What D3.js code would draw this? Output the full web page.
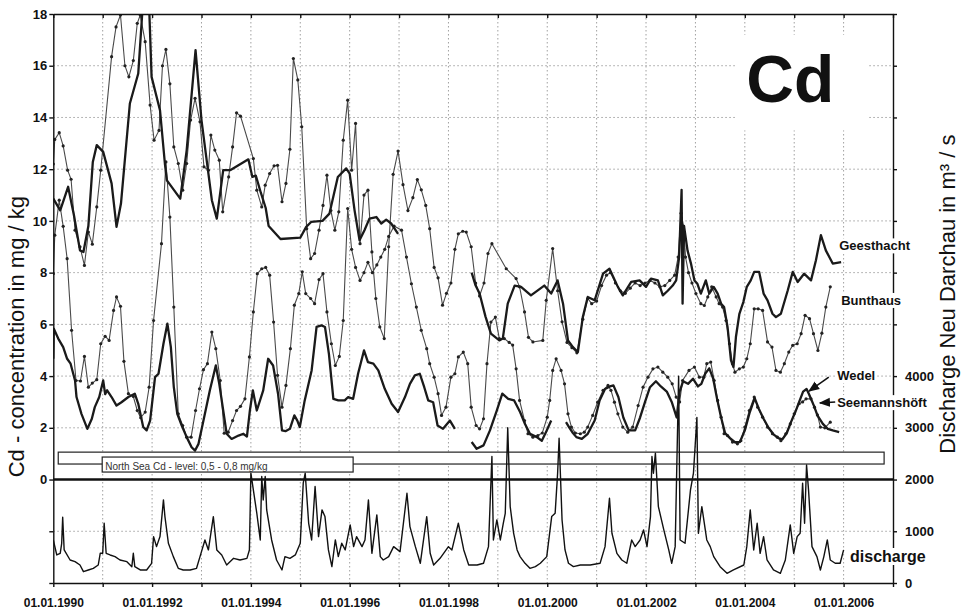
<!DOCTYPE html>
<html><head><meta charset="utf-8">
<script src="https://cdn.jsdelivr.net/npm/d3@7"></script>
<style>
body{margin:0;background:#fff}
svg{display:block}
text{font-family:"Liberation Sans",Arial,Helvetica,sans-serif}
</style>
</head><body>
<svg id="c" width="969" height="611"></svg>
<script>
// ---------- DATA (decimal year, value) ----------
const geesthacht = [
[1990.00,10.86],[1990.14,10.41],[1990.30,11.32],[1990.42,10.2],[1990.47,9.64],[1990.54,8.86],[1990.61,8.80],[1990.71,9.8],[1990.80,12.28],[1990.88,12.93],[1991.01,12.67],[1991.18,11.45],[1991.28,9.77],[1991.37,10.67],[1991.55,14.54],[1991.72,15.7],[1991.81,18.3],[1991.94,18.3],[1991.99,15.57],[1992.16,14.28],[1992.26,12.2],[1992.30,11.57],[1992.57,10.86],[1992.70,12.73],[1992.88,16.6],[1993.00,13.9],[1993.07,12.86],[1993.21,10.8],[1993.31,10.09],[1993.44,11.96],[1993.58,11.96],[1993.95,12.38],[1994.03,11.7],[1994.10,11.75],[1994.20,11.1],[1994.30,10.5],[1994.36,9.8],[1994.60,9.3],[1995.00,9.35],[1995.12,9.77],[1995.22,9.96],[1995.45,10.0],[1995.59,10.28],[1995.76,11.7],[1995.93,12.03],[1996.00,11.83],[1996.10,10.4],[1996.20,9.25],[1996.30,9.64],[1996.40,10.09],[1996.54,10.15],[1996.64,9.9],[1996.74,10.05],[1996.84,9.9],[1996.98,9.5],[1997.0,null],
[1998.47,8.0],[1998.55,7.5],[1998.63,7.19],[1998.75,6.3],[1998.86,5.64],[1999.03,5.38],[1999.10,5.45],[1999.20,6.8],[1999.34,7.5],[1999.47,7.45],[1999.67,7.12],[1999.94,7.5],[2000.08,7.19],[2000.21,7.7],[2000.32,6.8],[2000.42,5.38],[2000.52,5.12],[2000.62,4.93],[2000.72,6.28],[2000.82,7.06],[2000.96,6.93],[2001.13,7.96],[2001.26,8.15],[2001.43,7.45],[2001.53,7.12],[2001.70,7.64],[2001.87,7.7],[2002.00,7.45],[2002.10,7.77],[2002.24,7.7],[2002.34,7.12],[2002.44,7.3],[2002.54,7.5],[2002.61,7.7],[2002.67,8.6],[2002.72,11.2],[2002.74,6.8],[2002.77,9.8],[2002.84,8.86],[2002.91,8.35],[2002.98,7.7],[2003.04,7.57],[2003.11,7.19],[2003.21,7.7],[2003.28,7.19],[2003.37,7.45],[2003.45,7.19],[2003.52,6.8],[2003.58,6.67],[2003.65,5.9],[2003.72,4.61],[2003.77,4.35],[2003.82,5.51],[2003.89,6.41],[2003.97,6.86],[2004.04,7.45],[2004.12,7.7],[2004.19,8.03],[2004.29,8.03],[2004.38,7.19],[2004.46,6.93],[2004.56,6.41],[2004.63,6.28],[2004.73,6.41],[2004.87,7.32],[2004.97,8.03],[2005.07,7.64],[2005.20,7.96],[2005.34,7.7],[2005.44,8.48],[2005.54,9.45],[2005.64,8.86],[2005.78,8.35],[2005.95,8.41]];

const bunthaus = [
[1990.00,12.2],[1990.03,13.15],[1990.12,13.41],[1990.20,12.90],[1990.29,11.96],[1990.36,11.61],[1990.44,9.64],[1990.54,9.0],[1990.63,8.28],[1990.71,9.57],[1990.79,9.1],[1990.88,10.54],[1990.96,11.96],[1991.18,16.35],[1991.27,17.5],[1991.36,17.96],[1991.45,16.0],[1991.53,15.57],[1991.62,16.2],[1991.70,17.64],[1991.76,17.96],[1991.86,16.93],[1991.96,14.48],[1992.04,13.12],[1992.14,13.5],[1992.21,16.0],[1992.28,16.63],[1992.36,15.3],[1992.44,12.86],[1992.53,12.22],[1992.62,11.19],[1992.70,12.22],[1992.78,13.9],[1992.87,14.74],[1992.97,13.83],[1993.05,12.09],[1993.14,11.96],[1993.19,13.32],[1993.27,12.74],[1993.36,12.35],[1993.43,10.35],[1993.55,11.7],[1993.63,12.86],[1993.71,14.18],[1993.79,14.05],[1994.05,12.41],[1994.12,11.19],[1994.22,10.54],[1994.29,11.38],[1994.38,11.83],[1994.47,12.13],[1994.54,12.15],[1994.63,10.74],[1994.71,11.45],[1994.79,12.77],[1994.86,16.28],[1994.95,15.45],[1995.03,13.64],[1995.13,9.7],[1995.21,8.54],[1995.29,8.74],[1995.38,9.64],[1995.46,10.6],[1995.54,11.77],[1995.62,10.4],[1995.70,9.64],[1995.78,10.35],[1995.87,13.12],[1995.96,14.67],[1996.04,11.96],[1996.12,13.77],[1996.21,9.12],[1996.29,11.0],[1996.37,11.19],[1996.45,8.8],[1996.53,7.0],[1996.61,5.9],[1996.70,5.45],[1996.79,9.0],[1996.88,11.8],[1996.98,12.7],[1997.08,11.4],[1997.18,10.4],[1997.28,10.9],[1997.37,11.6],[1997.45,11.2],[1997.54,10.6],[1997.62,9.7],[1997.71,8.2],[1997.79,7.8],[1997.88,6.74],[1997.96,7.2],[1998.05,7.6],[1998.13,8.9],[1998.20,9.5],[1998.29,9.6],[1998.36,9.57],[1998.46,9.0],[1998.55,7.6],[1998.63,7.1],[1998.72,7.6],[1998.80,8.74],[1998.88,9.12],[1999.17,8.15],[1999.37,7.77],[1999.44,7.45],[1999.54,6.48],[1999.62,5.5],[1999.71,5.32],[1999.91,5.38],[1999.98,6.93],[2000.11,8.93],[2000.21,7.3],[2000.30,6.1],[2000.40,5.3],[2000.50,5.1],[2000.60,4.9],[2000.72,6.2],[2000.82,7.0],[2000.90,6.8],[2001.00,6.9],[2001.10,7.5],[2001.20,7.9],[2001.28,8.0],[2001.38,7.6],[2001.48,7.3],[2001.58,7.2],[2001.68,7.4],[2001.78,7.6],[2001.88,7.5],[2001.98,7.6],[2002.08,7.7],[2002.18,7.6],[2002.28,7.45],[2002.38,7.5],[2002.48,7.7],[2002.58,7.9],[2002.65,8.6],[2002.71,10.3],[2002.76,9.8],[2002.80,8.6],[2002.86,8.0],[2002.93,7.6],[2003.01,7.19],[2003.11,6.8],[2003.18,6.73],[2003.25,7.06],[2003.33,7.45],[2003.42,7.06],[2003.48,6.8],[2003.55,6.67],[2003.62,6.15],[2003.69,5.25],[2003.75,4.48],[2003.80,4.15],[2003.89,4.28],[2003.97,4.35],[2004.04,4.67],[2004.11,5.25],[2004.19,6.6],[2004.27,6.6],[2004.36,6.54],[2004.46,5.32],[2004.55,5.12],[2004.63,4.22],[2004.72,4.15],[2004.80,4.48],[2004.89,4.93],[2004.97,5.19],[2005.06,5.25],[2005.14,5.64],[2005.22,6.35],[2005.31,6.22],[2005.39,5.64],[2005.48,4.99],[2005.56,5.66],[2005.64,6.67],[2005.73,7.45]];

const wedel = [
[1990.00,7.96],[1990.03,9.45],[1990.12,10.8],[1990.20,9.79],[1990.28,8.54],[1990.37,5.77],[1990.46,3.83],[1990.55,3.81],[1990.63,4.76],[1990.71,3.57],[1990.79,3.73],[1990.88,3.86],[1990.96,5.25],[1991.05,5.54],[1991.13,5.38],[1991.22,6.54],[1991.28,7.06],[1991.36,6.70],[1991.43,4.57],[1991.52,3.32],[1991.62,3.21],[1991.70,2.67],[1991.77,2.39],[1991.86,2.61],[1991.94,3.57],[1992.03,6.15],[1992.19,9.12],[1992.28,12.28],[1992.36,10.15],[1992.44,6.67],[1992.53,2.54],[1992.62,2.09],[1992.70,1.64],[1992.79,1.64],[1992.88,2.67],[1992.96,3.51],[1993.04,4.25],[1993.12,4.48],[1993.21,5.70],[1993.29,5.06],[1993.38,3.83],[1993.46,1.79],[1993.54,1.83],[1993.63,2.28],[1993.71,2.67],[1993.79,2.83],[1993.88,3.12],[1993.97,4.74],[1994.05,6.48],[1994.13,7.96],[1994.22,8.15],[1994.30,8.2],[1994.38,7.9],[1994.46,6.09],[1994.54,4.03],[1994.63,2.8],[1994.71,3.64],[1994.80,5.06],[1994.88,6.74],[1994.97,7.19],[1995.04,8.03],[1995.11,7.19],[1995.21,7.0],[1995.29,6.8],[1995.38,7.73],[1995.46,7.96],[1995.54,6.48],[1995.63,5.25],[1995.71,4.41],[1995.79,4.76],[1995.87,6.15],[1995.96,10.48],[1996.04,8.9],[1996.12,8.2],[1996.21,7.7],[1996.29,8.0],[1996.37,8.4],[1996.46,8.0],[1996.55,8.3],[1996.63,8.6],[1996.71,8.9],[1996.79,9.4],[1996.90,9.8],[1997.05,9.64],[1997.15,8.6],[1997.25,7.57],[1997.35,6.67],[1997.45,5.77],[1997.56,5.06],[1997.62,4.48],[1997.71,3.96],[1997.79,3.32],[1997.86,2.48],[1997.95,2.8],[1998.05,3.96],[1998.13,4.09],[1998.20,4.74],[1998.30,4.93],[1998.39,4.48],[1998.46,2.8],[1998.56,2.09],[1998.63,1.96],[1998.71,2.35],[1998.78,4.48],[1998.86,6.09],[1998.95,6.28],[1999.03,5.45],[1999.13,5.45],[1999.23,5.3],[1999.30,5.2],[1999.37,4.28],[1999.44,3.06],[1999.54,2.28],[1999.61,1.77],[1999.71,1.64],[1999.81,1.7],[1999.90,1.8],[2000.00,2.41],[2000.05,3.06],[2000.11,4.22],[2000.18,4.67],[2000.28,4.22],[2000.35,3.7],[2000.42,2.54],[2000.49,2.03],[2000.57,1.8],[2000.67,1.77],[2000.75,1.83],[2000.82,2.03],[2000.92,2.48],[2001.02,2.99],[2001.13,3.45],[2001.23,3.64],[2001.29,3.45],[2001.36,2.99],[2001.43,2.54],[2001.53,2.03],[2001.63,1.83],[2001.73,2.03],[2001.84,2.86],[2001.94,3.57],[2002.04,3.96],[2002.14,4.28],[2002.24,4.35],[2002.34,4.15],[2002.44,3.96],[2002.53,3.7],[2002.61,3.19],[2002.68,3.0],[2002.74,3.83],[2002.87,4.22],[2002.98,4.35],[2003.08,3.96],[2003.17,3.96],[2003.23,4.48],[2003.31,4.54],[2003.38,3.83],[2003.45,3.06],[2003.52,2.41],[2003.58,1.77],[2003.65,1.7],[2003.75,1.45],[2003.85,1.38],[2003.92,1.5],[2004.00,2.03],[2004.09,2.67],[2004.19,3.19],[2004.26,2.8],[2004.36,2.41],[2004.46,2.03],[2004.56,1.77],[2004.66,1.64],[2004.73,1.5],[2004.83,1.77],[2004.92,2.15],[2005.00,2.54],[2005.10,2.93],[2005.17,3.0],[2005.24,3.12],[2005.34,3.12],[2005.41,2.8],[2005.47,2.5],[2005.53,2.03],[2005.62,2.0],[2005.73,2.22]];

const seemannshoeft = [
[1990.00,4.67],[1990.01,5.83],[1990.10,5.45],[1990.20,5.12],[1990.28,4.67],[1990.35,4.48],[1990.44,3.83],[1990.47,3.19],[1990.57,2.54],[1990.69,1.96],[1990.78,2.35],[1990.84,2.8],[1990.93,3.19],[1991.01,3.83],[1991.05,3.3],[1991.09,3.45],[1991.18,3.19],[1991.28,2.86],[1991.38,2.99],[1991.52,3.19],[1991.65,3.32],[1991.72,2.93],[1991.82,2.03],[1991.89,1.9],[1991.96,2.28],[1992.06,3.96],[1992.13,4.09],[1992.23,5.25],[1992.31,6.03],[1992.38,5.12],[1992.44,3.57],[1992.51,2.54],[1992.60,2.09],[1992.70,1.64],[1992.80,1.25],[1992.87,1.12],[1992.94,1.38],[1993.04,2.28],[1993.17,3.45],[1993.29,4.41],[1993.36,3.7],[1993.44,2.67],[1993.51,1.77],[1993.61,1.57],[1993.75,1.7],[1993.85,1.77],[1993.92,1.66],[1993.98,2.67],[1994.04,3.45],[1994.12,2.67],[1994.25,3.45],[1994.35,4.67],[1994.45,4.41],[1994.55,3.32],[1994.63,1.9],[1994.70,1.87],[1994.79,1.96],[1994.88,2.48],[1994.94,2.28],[1994.99,2.03],[1995.09,3.06],[1995.23,4.22],[1995.33,5.9],[1995.43,5.96],[1995.50,5.9],[1995.58,4.86],[1995.67,3.12],[1995.77,3.06],[1995.90,3.06],[1995.97,3.19],[1996.07,3.12],[1996.17,4.09],[1996.29,4.99],[1996.37,4.54],[1996.48,4.48],[1996.58,4.22],[1996.71,3.51],[1996.85,2.93],[1996.98,2.61],[1997.12,3.19],[1997.22,3.7],[1997.32,4.03],[1997.42,4.09],[1997.51,3.57],[1997.59,3.06],[1997.69,2.99],[1997.78,2.09],[1997.89,1.96],[1998.03,2.28],[1998.13,1.96],[1998.2,null],
[1998.47,1.45],[1998.57,1.19],[1998.71,1.32],[1998.84,1.9],[1998.98,2.67],[1999.09,3.32],[1999.21,3.12],[1999.33,3.06],[1999.45,2.61],[1999.55,2.15],[1999.65,1.77],[1999.79,1.64],[1999.89,1.5],[1999.99,1.9],[2000.08,2.28],[2000.2,null],
[2000.38,2.22],[2000.45,2.0],[2000.52,1.8],[2000.59,1.64],[2000.70,1.57],[2000.82,1.77],[2000.96,2.28],[2001.06,3.06],[2001.17,3.5],[2001.27,3.6],[2001.34,3.64],[2001.44,3.19],[2001.54,2.4],[2001.65,1.9],[2001.78,1.9],[2001.88,2.4],[2001.98,3.0],[2002.08,3.57],[2002.20,3.8],[2002.30,3.6],[2002.42,3.4],[2002.52,3.0],[2002.62,2.4],[2002.68,3.4],[2002.75,3.8],[2002.85,3.7],[2002.95,3.9],[2003.05,3.6],[2003.12,3.7],[2003.20,4.1],[2003.28,4.3],[2003.36,3.9],[2003.44,3.1],[2003.52,2.4],[2003.60,1.8],[2003.70,1.6],[2003.80,1.45],[2003.90,1.45],[2004.00,1.9],[2004.10,2.6],[2004.20,3.15],[2004.28,2.75],[2004.38,2.35],[2004.48,2.0],[2004.58,1.75],[2004.68,1.6],[2004.76,1.55],[2004.85,1.8],[2004.93,2.2],[2005.02,2.6],[2005.10,3.0],[2005.18,3.4],[2005.25,3.5],[2005.30,3.3],[2005.40,2.85],[2005.47,2.48],[2005.58,2.15],[2005.68,1.96],[2005.78,1.9],[2005.91,1.83]];

const discharge = [
[1990.00,832],[1990.07,542],[1990.14,574],[1990.17,768],[1990.19,1271],[1990.22,639],[1990.34,445],[1990.44,413],[1990.54,348],[1990.61,219],[1990.71,252],[1990.81,284],[1990.91,348],[1990.95,574],[1991.00,574],[1991.03,1155],[1991.07,574],[1991.15,542],[1991.25,510],[1991.35,445],[1991.49,413],[1991.59,316],[1991.62,574],[1991.65,316],[1991.76,252],[1991.89,252],[1991.99,381],[1992.03,897],[1992.09,703],[1992.16,897],[1992.23,1606],[1992.26,1284],[1992.33,768],[1992.43,510],[1992.53,284],[1992.63,252],[1992.77,252],[1992.90,284],[1992.97,510],[1993.07,832],[1993.14,639],[1993.24,1284],[1993.31,639],[1993.41,542],[1993.51,348],[1993.65,477],[1993.78,445],[1993.92,477],[1993.97,639],[1994.00,2123],[1994.05,1800],[1994.12,1348],[1994.19,832],[1994.22,2058],[1994.25,1606],[1994.29,2058],[1994.32,1413],[1994.42,832],[1994.52,445],[1994.63,252],[1994.69,510],[1994.79,477],[1994.90,542],[1995.00,768],[1995.06,1929],[1995.10,2123],[1995.17,1155],[1995.23,832],[1995.30,1865],[1995.37,897],[1995.44,1413],[1995.50,1284],[1995.57,639],[1995.64,316],[1995.71,832],[1995.77,510],[1995.84,768],[1995.91,639],[1996.01,1123],[1996.08,703],[1996.14,897],[1996.25,703],[1996.31,832],[1996.38,1606],[1996.45,574],[1996.55,1316],[1996.62,510],[1996.68,445],[1996.79,510],[1996.89,703],[1997.02,606],[1997.16,1735],[1997.22,1090],[1997.33,703],[1997.43,381],[1997.56,1284],[1997.63,574],[1997.70,348],[1997.83,477],[1998.00,703],[1998.07,639],[1998.20,1155],[1998.31,639],[1998.41,348],[1998.58,348],[1998.71,381],[1998.81,703],[1998.88,2445],[1998.91,832],[1998.98,1219],[1999.05,832],[1999.11,1155],[1999.15,1348],[1999.20,3000],[1999.25,1477],[1999.32,961],[1999.39,639],[1999.45,510],[1999.55,381],[1999.65,284],[1999.76,316],[1999.86,381],[1999.99,510],[2000.09,1284],[2000.16,1348],[2000.21,2123],[2000.24,2800],[2000.30,1219],[2000.36,639],[2000.43,381],[2000.53,316],[2000.67,348],[2000.87,348],[2001.07,381],[2001.17,703],[2001.26,1639],[2001.31,961],[2001.41,574],[2001.51,445],[2001.61,381],[2001.71,832],[2001.78,703],[2001.88,832],[2001.95,1026],[2002.02,703],[2002.09,1284],[2002.12,2445],[2002.15,2123],[2002.19,2510],[2002.25,1477],[2002.36,1026],[2002.46,639],[2002.52,381],[2002.59,703],[2002.66,4000],[2002.69,832],[2002.79,768],[2002.90,1800],[2002.96,2123],[2003.03,3200],[2003.06,961],[2003.13,1477],[2003.23,832],[2003.30,703],[2003.37,510],[2003.50,316],[2003.64,187],[2003.77,252],[2003.98,348],[2004.04,703],[2004.11,1413],[2004.18,639],[2004.25,1155],[2004.31,574],[2004.38,897],[2004.45,445],[2004.58,252],[2004.72,187],[2004.82,445],[2004.92,1123],[2004.99,574],[2005.06,897],[2005.12,961],[2005.17,1929],[2005.21,1155],[2005.25,2280],[2005.29,1800],[2005.36,703],[2005.46,510],[2005.53,252],[2005.60,510],[2005.67,832],[2005.73,445],[2005.83,381],[2005.93,381],[2006.00,639]];

const yearTicks = d3.range(1990, 2008);
const concTicks = d3.range(-4, 19, 2);
const dischargeTicks = d3.range(0, 11001, 1000);
const northSeaBand = [0.6, 1.06];
const northSeaLabel = "North Sea Cd - level: 0,5 - 0,8 mg/kg";

// ---------- SCALES ----------
const L = 53.3, R = 893, T = 14, B = 583;
const x = d3.scaleLinear().domain([1990, 2007]).range([L, R]);
const yC = d3.scaleLinear().domain([-4, 18]).range([B, T]);
const yD = d3.scaleLinear().domain([0, 11000]).range([B, T]);

const svg = d3.select("#c");
svg.append("defs").call(d => {
  d.append("clipPath").attr("id","clip").append("rect")
    .attr("x",L).attr("y",T).attr("width",R-L).attr("height",B-T);
  d.append("marker").attr("id","arr").attr("viewBox","0 0 10 10").attr("refX",9).attr("refY",5)
    .attr("markerWidth",7).attr("markerHeight",7).attr("orient","auto")
    .append("path").attr("d","M0,1 L10,5 L0,9 Z").attr("fill","#111");
});

// ---------- GRID ----------
const grid = svg.append("g").attr("stroke","#a0a0a0").attr("stroke-width",1).attr("stroke-dasharray","1.5,2.5");
grid.selectAll("line.v").data(yearTicks.filter(d=>d>1990 && d<2007)).join("line")
  .attr("x1",d=>x(d)).attr("x2",d=>x(d)).attr("y1",T).attr("y2",B);
grid.selectAll("line.h").data(concTicks.filter(d=>d!==0 && d>-4 && d<18)).join("line")
  .attr("y1",d=>yC(d)).attr("y2",d=>yC(d)).attr("x1",L).attr("x2",R);

// white area behind the "Cd" title
svg.append("rect").attr("x",x(2003.84)).attr("y",yC(17.2)).attr("width",x(2006.49)-x(2003.84)).attr("height",yC(13.5)-yC(17.2)).attr("fill","#fff");

// ---------- NORTH SEA BAND ----------
svg.append("rect").attr("x",x(1990.1)).attr("width",x(2006.82)-x(1990.1))
  .attr("y",yC(northSeaBand[1])).attr("height",yC(northSeaBand[0])-yC(northSeaBand[1]))
  .attr("fill","#fff").attr("stroke","#222").attr("stroke-width",1.2);

// ---------- SERIES ----------
const plot = svg.append("g").attr("clip-path","url(#clip)");
const lineC = d3.line().defined(d=>d[1]!=null).x(d=>x(d[0])).y(d=>yC(d[1]));
const lineD = d3.line().x(d=>x(d[0])).y(d=>yD(d[1]));

plot.append("path").datum(discharge).attr("d",lineD).attr("fill","none").attr("stroke","#111").attr("stroke-width",1.4).attr("stroke-linejoin","round");

function thin(data){
  plot.append("path").datum(data).attr("d",lineC).attr("fill","none").attr("stroke","#4a4a4a").attr("stroke-width",1.1);
  plot.append("g").selectAll("circle").data(data.filter(d=>d[1]!=null)).join("circle")
    .attr("cx",d=>x(d[0])).attr("cy",d=>yC(d[1])).attr("r",1.6).attr("fill","#222");
}
function thick(data){
  plot.append("path").datum(data).attr("d",lineC).attr("fill","none").attr("stroke","#1a1a1a").attr("stroke-width",2.3).attr("stroke-linejoin","round");
}
thin(bunthaus);
thin(wedel);
thick(geesthacht);
thick(seemannshoeft);

// zero line
svg.append("line").attr("x1",L).attr("x2",R).attr("y1",yC(0)).attr("y2",yC(0)).attr("stroke","#111").attr("stroke-width",2.6);

// North Sea label box
const lb = svg.append("g");
lb.append("rect").attr("x",x(1990.99)).attr("width",x(1996.07)-x(1990.99))
  .attr("y",yC(0.87)).attr("height",yC(0.29)-yC(0.87)).attr("fill","#fff").attr("stroke","#222").attr("stroke-width",1.2);
lb.append("text").attr("x",x(1991.05)).attr("y",yC(0.35)).attr("font-size",10).attr("fill","#333").text(northSeaLabel);

// ---------- AXES ----------
const axisStyle = g => { g.selectAll("path,line").attr("stroke","#111").attr("stroke-width",1.4); g.selectAll("text").attr("fill","#111").attr("font-weight","bold").attr("font-family","'Liberation Sans',Arial,sans-serif"); };

svg.append("g").attr("transform",`translate(${L},0)`)
  .call(d3.axisLeft(yC).tickValues(concTicks).tickFormat(d=>d>=0?d:"").tickSize(4).tickSizeOuter(0).tickPadding(2))
  .call(axisStyle).call(g=>g.selectAll("text").attr("font-size",13));

svg.append("g").attr("transform",`translate(0,${T})`)
  .call(d3.axisTop(x).tickValues(yearTicks).tickFormat("").tickSize(-4).tickSizeOuter(0))
  .call(axisStyle);

svg.append("g").attr("transform",`translate(0,${B})`)
  .call(d3.axisBottom(x).tickValues(yearTicks).tickFormat(d=>(d%2===0 && d<=2006)?"01.01."+d:"").tickSize(4).tickSizeOuter(0).tickPadding(11))
  .call(axisStyle).call(g=>g.selectAll("text").attr("font-size",12));

svg.append("g").attr("transform",`translate(${R},0)`)
  .call(d3.axisRight(yD).tickValues(dischargeTicks).tickFormat(d=>d<=4000?d:"").tickSize(4).tickSizeOuter(0).tickPadding(8))
  .call(axisStyle).call(g=>g.selectAll("text").attr("font-size",13));

// ---------- TITLES ----------
svg.append("text").attr("transform",`translate(23.5,${(yC(-0.15)+yC(11.2))/2}) rotate(-90)`)
  .attr("text-anchor","middle").attr("font-size",22).attr("fill","#111").text("Cd - concentration in mg / kg");
svg.append("text").attr("transform",`translate(955,${(yD(2400)+yD(8770))/2}) rotate(-90)`)
  .attr("text-anchor","middle").attr("font-size",22).attr("fill","#111").text("Discharge Neu Darchau in m³ / s");

svg.append("text").attr("x",x(2004.92)).attr("y",yC(14.6)).attr("text-anchor","middle")
  .attr("font-size",66).attr("font-weight","bold").attr("fill","#111").text("Cd");

// series labels with white background
const labels = [
  {t:"Geesthacht", yr:2005.91, v:8.86, s:13, sc:"c"},
  {t:"Bunthaus", yr:2005.95, v:6.75, s:13, sc:"c"},
  {t:"Wedel", yr:2005.87, v:3.85, s:13, sc:"c"},
  {t:"Seemannshöft", yr:2005.87, v:2.80, s:13, sc:"c"},
  {t:"discharge", yr:2006.13, v:406, s:16, sc:"d"}
];
labels.forEach(l=>{
  const g = svg.append("g");
  const tx = g.append("text").attr("x",x(l.yr)).attr("y",l.sc==="c"?yC(l.v):yD(l.v))
    .attr("font-size",l.s).attr("font-weight","bold").attr("fill","#111").text(l.t);
  const bb = tx.node().getBBox();
  g.insert("rect","text").attr("x",bb.x-1).attr("y",bb.y).attr("width",bb.width+2).attr("height",bb.height).attr("fill","#fff");
});

// arrows
svg.append("line").attr("x1",x(2005.70)).attr("y1",yC(3.96)).attr("x2",x(2005.30)).attr("y2",yC(3.42))
  .attr("stroke","#111").attr("stroke-width",1.6).attr("marker-end","url(#arr)");
svg.append("line").attr("x1",x(2005.83)).attr("y1",yC(3.0)).attr("x2",x(2005.52)).attr("y2",yC(2.96))
  .attr("stroke","#111").attr("stroke-width",1.6).attr("marker-end","url(#arr)");
</script>
</body></html>
